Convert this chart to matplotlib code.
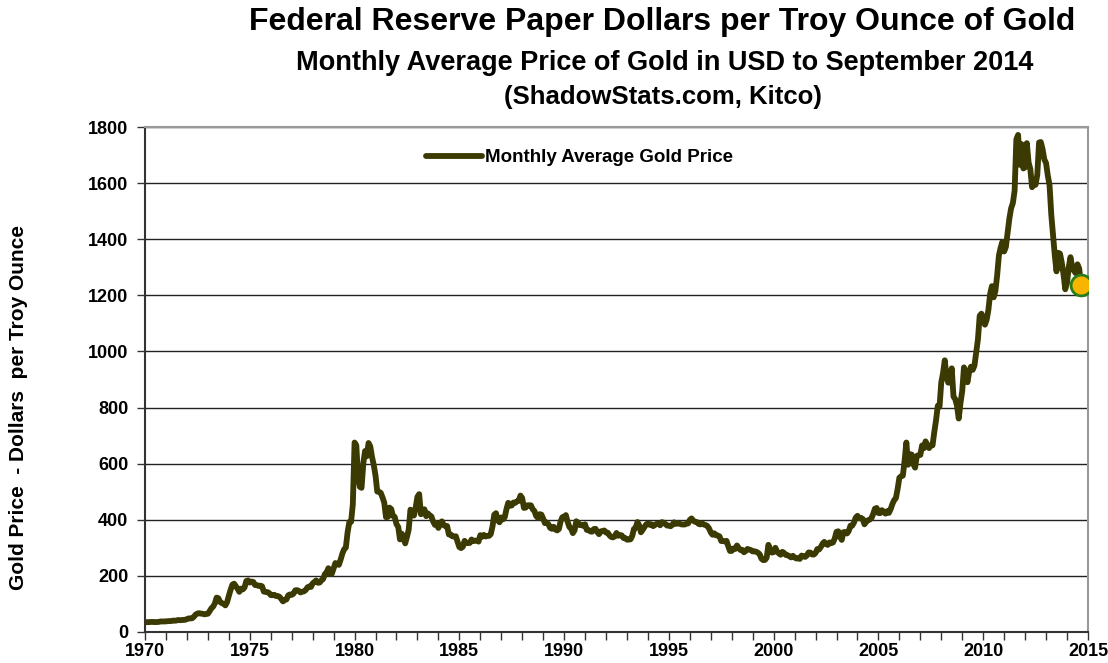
import numpy as np
import matplotlib.pyplot as plt
from matplotlib.ticker import MultipleLocator

# monthly average gold price (USD / troy oz), Jan 1970 .. Sep 2014
gold = {
    1970: [34.9, 35.0, 35.1, 35.6, 35.9, 35.4, 35.3, 35.4, 36.2, 37.5, 37.4, 37.4],
    1971: [37.9, 38.7, 38.9, 39.0, 40.5, 40.1, 40.9, 42.7, 42.0, 42.5, 42.9, 43.5],
    1972: [45.8, 48.3, 48.3, 49.0, 54.6, 62.1, 65.7, 67.0, 65.5, 64.9, 62.9, 63.9],
    1973: [65.1, 74.2, 84.4, 90.5, 102.0, 122.5, 120.2, 106.8, 103.0, 100.1, 94.8, 106.7],
    1974: [129.2, 150.2, 168.4, 172.2, 163.3, 154.1, 143.0, 154.6, 151.8, 158.8, 181.7, 183.9],
    1975: [176.3, 179.6, 178.3, 167.3, 167.1, 164.2, 165.2, 163.0, 144.1, 142.7, 142.3, 139.3],
    1976: [131.6, 131.0, 132.6, 128.2, 128.2, 125.4, 117.8, 109.0, 114.0, 116.0, 130.6, 133.7],
    1977: [132.3, 136.3, 148.3, 149.3, 146.6, 140.8, 143.4, 144.8, 149.5, 158.9, 162.3, 160.5],
    1978: [173.2, 178.2, 183.7, 175.3, 176.3, 183.9, 188.7, 206.3, 212.9, 227.3, 206.0, 207.8],
    1979: [227.3, 245.7, 242.1, 239.2, 257.6, 279.1, 294.7, 300.8, 355.1, 391.7, 392.5, 455.1],
    1980: [675.3, 665.3, 553.6, 517.4, 513.8, 600.7, 645.0, 626.5, 673.6, 661.2, 623.5, 594.9],
    1981: [557.4, 500.5, 499.8, 495.8, 479.7, 460.8, 409.3, 410.0, 443.3, 437.8, 413.4, 410.1],
    1982: [384.4, 374.3, 330.0, 350.5, 334.0, 315.8, 339.1, 364.9, 436.0, 422.1, 415.0, 444.3],
    1983: [481.8, 491.3, 419.6, 432.9, 437.4, 412.9, 422.6, 416.2, 411.7, 393.6, 381.7, 388.0],
    1984: [370.9, 386.5, 394.3, 381.1, 377.5, 377.7, 347.6, 347.7, 341.1, 340.2, 341.2, 321.0],
    1985: [302.8, 299.1, 304.0, 324.9, 316.6, 316.8, 317.3, 329.6, 323.6, 325.8, 325.2, 322.2],
    1986: [345.0, 339.3, 346.1, 340.4, 342.4, 342.6, 348.7, 376.5, 418.1, 423.4, 397.9, 391.0],
    1987: [408.3, 401.3, 408.8, 438.4, 460.4, 449.9, 451.0, 461.4, 460.3, 465.4, 467.3, 486.3],
    1988: [477.3, 442.1, 443.6, 451.6, 451.7, 451.4, 437.6, 431.3, 413.4, 406.9, 419.9, 418.4],
    1989: [404.1, 387.9, 390.2, 384.3, 371.1, 367.6, 375.0, 365.4, 362.0, 366.8, 394.2, 409.2],
    1990: [410.1, 416.7, 393.1, 374.3, 369.1, 352.3, 362.5, 394.7, 389.3, 380.9, 381.7, 378.2],
    1991: [383.6, 363.8, 363.3, 358.4, 357.4, 366.7, 367.7, 356.2, 348.7, 358.7, 359.9, 361.8],
    1992: [354.5, 353.9, 344.3, 338.6, 337.2, 340.8, 353.0, 342.9, 345.4, 344.4, 335.0, 334.7],
    1993: [329.0, 329.3, 330.1, 342.2, 367.2, 371.9, 392.0, 379.8, 355.3, 364.2, 373.8, 383.3],
    1994: [386.9, 382.0, 384.0, 377.3, 381.4, 385.6, 385.5, 380.4, 391.6, 389.8, 384.4, 379.3],
    1995: [379.0, 376.8, 382.2, 391.0, 385.2, 387.6, 386.2, 383.7, 383.1, 383.0, 385.6, 387.0],
    1996: [399.6, 404.8, 396.2, 392.9, 391.9, 385.3, 383.5, 387.4, 383.1, 381.1, 377.9, 369.0],
    1997: [355.0, 346.6, 351.8, 344.5, 343.8, 340.8, 324.1, 324.0, 322.8, 324.9, 306.0, 288.7],
    1998: [289.1, 297.5, 295.9, 308.4, 299.1, 292.3, 292.9, 284.1, 289.0, 296.0, 294.0, 291.7],
    1999: [287.1, 287.3, 286.0, 282.6, 277.0, 261.3, 256.2, 256.7, 264.7, 310.7, 293.2, 283.1],
    2000: [284.6, 300.1, 286.4, 280.1, 275.3, 285.7, 281.6, 274.5, 273.7, 270.0, 266.0, 271.5],
    2001: [265.5, 261.9, 263.0, 260.5, 272.4, 270.2, 267.5, 272.4, 283.4, 283.1, 276.2, 275.9],
    2002: [281.7, 295.5, 294.0, 302.7, 314.5, 321.2, 313.3, 310.3, 319.2, 316.6, 319.1, 333.4],
    2003: [356.9, 359.0, 340.6, 328.2, 355.7, 356.4, 351.0, 359.8, 378.9, 378.9, 389.9, 407.6],
    2004: [414.0, 405.3, 406.7, 403.0, 383.8, 392.4, 398.1, 400.5, 405.3, 420.5, 439.4, 442.1],
    2005: [424.0, 423.4, 434.2, 428.9, 421.9, 430.7, 424.5, 437.9, 456.0, 469.9, 476.7, 509.8],
    2006: [549.9, 555.0, 557.1, 610.6, 675.4, 596.2, 633.8, 632.6, 598.2, 585.8, 627.8, 629.8],
    2007: [631.2, 664.8, 654.9, 679.4, 666.9, 655.5, 665.3, 665.4, 712.7, 754.6, 806.2, 803.2],
    2008: [889.6, 922.3, 968.4, 909.7, 888.7, 889.5, 939.8, 839.0, 829.9, 806.6, 760.9, 816.1],
    2009: [858.7, 943.2, 924.3, 890.2, 928.6, 945.7, 934.2, 949.4, 996.6, 1043.2, 1127.0, 1134.7],
    2010: [1117.9, 1095.4, 1113.3, 1148.7, 1205.4, 1232.9, 1192.9, 1215.8, 1271.0, 1342.0, 1369.9, 1390.6],
    2011: [1356.4, 1372.7, 1424.0, 1473.8, 1510.4, 1528.7, 1572.8, 1755.8, 1771.9, 1665.2, 1739.0, 1652.3],
    2012: [1656.1, 1742.6, 1673.8, 1650.1, 1585.5, 1596.7, 1594.3, 1630.3, 1744.8, 1746.6, 1721.6, 1684.8],
    2013: [1671.9, 1627.6, 1593.1, 1487.9, 1414.0, 1343.4, 1285.5, 1351.7, 1348.6, 1316.6, 1275.8, 1221.5],
    2014: [1244.3, 1300.0, 1336.1, 1299.0, 1287.5, 1279.1, 1310.6, 1295.1, 1236.6],
}

x = []
y = []
for yr, vals in gold.items():
    for m, v in enumerate(vals):
        x.append(yr + m / 12.0)
        y.append(v)
x = np.array(x)
y = np.array(y)

plt.rcParams['font.family'] = ['Liberation Sans', 'DejaVu Sans']

fig = plt.figure(figsize=(11.08, 6.63), dpi=100)
ax = fig.add_axes([0.1309, 0.0468, 0.851, 0.7616])

line_col = '#3b3a03'
ax.plot(x, y, color=line_col, lw=4.2, solid_capstyle='round', solid_joinstyle='round',
        label='Monthly Average Gold Price', zorder=3)
ax.plot(x[-1], y[-1], 'o', ms=15, mfc='#f7b500', mec='#2a7d1a', mew=2, zorder=4)

ax.set_xlim(1970, 2015)
ax.set_ylim(0, 1800)
ax.xaxis.set_major_locator(MultipleLocator(5))
ax.xaxis.set_minor_locator(MultipleLocator(1))
ax.yaxis.set_major_locator(MultipleLocator(200))
ax.yaxis.grid(True, color='#222222', lw=1.0)
ax.set_axisbelow(True)

for lab in ax.get_xticklabels() + ax.get_yticklabels():
    lab.set_fontweight('bold')
    lab.set_fontsize(13)
ax.tick_params(axis='both', which='both', direction='out', length=6, width=1, color='#333333')
ax.tick_params(axis='y', pad=6)
ax.tick_params(axis='x', pad=2)

ax.spines['left'].set_color('#333333')
ax.spines['bottom'].set_color('#333333')
ax.spines['top'].set_color('#999999')
ax.spines['right'].set_color('#999999')
for s in ax.spines.values():
    s.set_linewidth(1.5)

leg = ax.legend(loc='upper left', bbox_to_anchor=(0.28, 0.99), frameon=False,
                handlelength=3.0, handletextpad=0.15,
                prop={'weight': 'bold', 'size': 13.5})

fig.text(0.598, 0.967, 'Federal Reserve Paper Dollars per Troy Ounce of Gold',
         ha='center', va='center', fontsize=23, fontweight='bold')
fig.text(0.600, 0.905, 'Monthly Average Price of Gold in USD to September 2014',
         ha='center', va='center', fontsize=19.5, fontweight='bold')
fig.text(0.598, 0.853, '(ShadowStats.com, Kitco)',
         ha='center', va='center', fontsize=18.5, fontweight='bold')
fig.text(0.017, 0.385, 'Gold Price  - Dollars  per Troy Ounce', rotation=90,
         ha='center', va='center', fontsize=15, fontweight='bold')

fig.savefig('out.png', dpi=100)
